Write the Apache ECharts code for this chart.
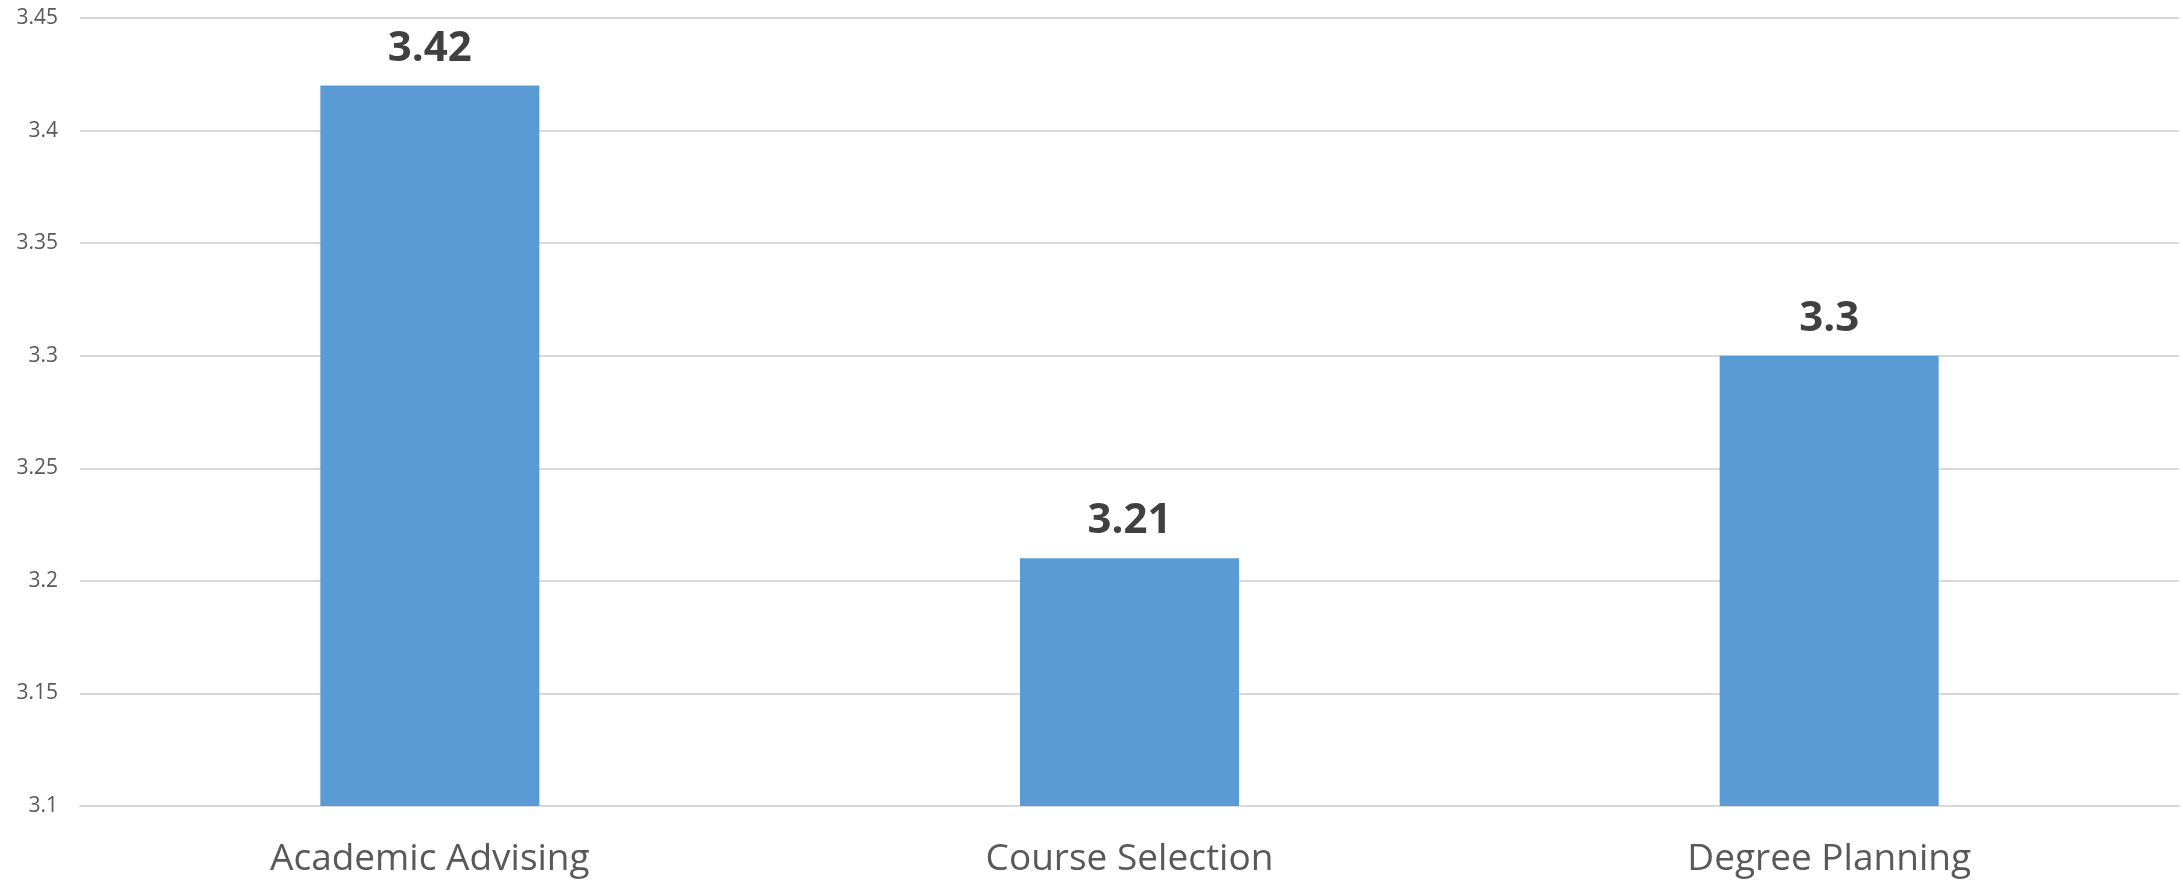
<!DOCTYPE html>
<html>
<head>
<meta charset="utf-8">
<script src="https://cdn.jsdelivr.net/npm/echarts@6/dist/echarts.min.js"></script>
<style>
html,body{margin:0;padding:0;background:#fff;}
#c{width:2183px;height:881px;}
</style>
</head>
<body>
<div id="c"></div>
<script>
const categories = ["Academic Advising", "Course Selection", "Degree Planning"];
const values = [3.42, 3.21, 3.3];

const chart = echarts.init(document.getElementById('c'));
chart.setOption({
  animation: false,
  backgroundColor: '#ffffff',
  grid: { left: 80, right: 4, top: 18, bottom: 75, containLabel: false },
  xAxis: {
    type: 'category',
    data: categories,
    axisLine: { show: true, lineStyle: { color: '#d9d9d9', width: 2 } },
    axisTick: { show: false },
    axisLabel: { color: '#595959', fontSize: 37, fontFamily: 'Open Sans', margin: 35 }
  },
  yAxis: {
    type: 'value',
    min: 3.1,
    max: 3.45,
    interval: 0.05,
    axisLine: { show: false },
    axisTick: { show: false },
    axisLabel: { color: '#595959', fontSize: 21, fontFamily: 'Open Sans', margin: 22 },
    splitLine: { lineStyle: { color: '#d9d9d9', width: 2 } }
  },
  series: [{
    type: 'bar',
    data: values,
    barWidth: 219,
    itemStyle: { color: '#5b9bd5' },
    label: {
      show: true,
      position: 'top',
      distance: 16,
      color: '#404040',
      fontSize: 42,
      fontWeight: 'bold',
      fontFamily: 'Open Sans'
    }
  }]
});
</script>
</body>
</html>
